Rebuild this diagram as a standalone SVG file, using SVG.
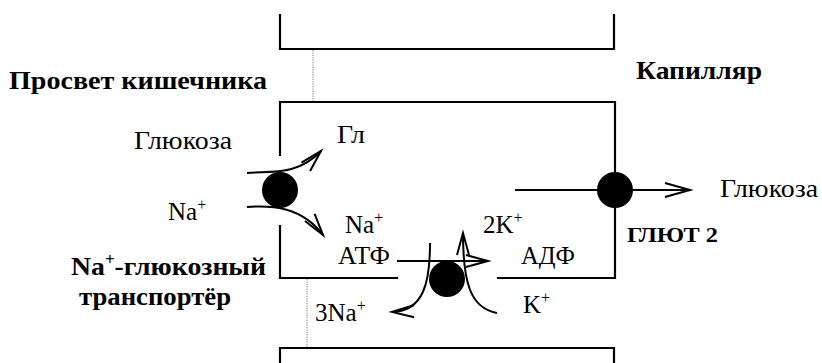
<svg xmlns="http://www.w3.org/2000/svg" width="822" height="363" viewBox="0 0 822 363">
<style>
.wall{fill:none;stroke:#000;stroke-width:2.2;stroke-linecap:square}
.dot{fill:none;stroke:#777;stroke-width:1;stroke-dasharray:1.2 1.2}
.arr{fill:none;stroke:#000;stroke-width:2}
text{font-family:'Liberation Serif','DejaVu Serif','Noto Serif',serif;fill:#000}
.t{font-size:25px}
.b{font-size:26px;font-weight:bold}
.sup{font-size:16px}
.prot{fill:#000}
</style>
<defs>
<marker id="head" markerUnits="userSpaceOnUse" markerWidth="30" markerHeight="20" refX="22" refY="8" orient="auto" overflow="visible">
<path d="M0,2 L22,8 L0,14" fill="none" stroke="#000" stroke-width="2"/>
</marker>
<marker id="headW" markerUnits="userSpaceOnUse" markerWidth="30" markerHeight="20" refX="25" refY="8" orient="auto" overflow="visible">
<path d="M0,1 L25,8 L0,15" fill="none" stroke="#000" stroke-width="2"/>
</marker>
</defs>

<g id="capillary-top">
<path class="wall" d="M280,15 V49 H614 V15"/>
</g>
<g id="capillary-bottom">
<path class="wall" d="M280,363 V348 H614 V363"/>
</g>
<g id="guides">
<line class="dot" x1="313" y1="50" x2="313" y2="101"/>
<line class="dot" x1="307" y1="279" x2="307" y2="347"/>
</g>

<g id="cell">
<path class="wall" d="M280,155 V102 H615 V278 H498"/>
<path class="wall" d="M280,226 V278 H397"/>
</g>

<g id="connectors">
<path class="arr" d="M247,173 C272,171 297,176 321,151" marker-end="url(#head)"/>
<path class="arr" d="M247,207 C272,205 302,207 323,235" marker-end="url(#head)"/>
<path class="arr" d="M397,261 H488" marker-end="url(#head)"/>
<path class="arr" d="M430,243 C430,282 424,311 392,312" marker-end="url(#head)"/>
<path class="arr" d="M497,313 C470,308 463,282 463,233" marker-end="url(#head)"/>
<path class="arr" d="M515,190 H690" marker-end="url(#headW)"/>
</g>

<g id="na-glucose-transporter">
<circle class="prot" cx="280" cy="190" r="18"/>
</g>
<g id="na-k-pump">
<circle class="prot" cx="447" cy="279" r="18"/>
</g>
<g id="glut2">
<circle class="prot" cx="615" cy="190" r="18"/>
</g>

<g id="labels">
<text class="b" x="9" y="89" textLength="258" lengthAdjust="spacingAndGlyphs">Просвет кишечника</text>
<text class="b" x="636" y="79" textLength="126" lengthAdjust="spacingAndGlyphs">Капилляр</text>
<text class="t" x="134" y="149" textLength="98" lengthAdjust="spacingAndGlyphs">Глюкоза</text>
<text class="t" x="337" y="143" textLength="28" lengthAdjust="spacingAndGlyphs">Гл</text>
<text class="t" x="168" y="220">Na<tspan class="sup" dy="-10">+</tspan></text>
<text class="t" x="345" y="233">Na<tspan class="sup" dy="-10">+</tspan></text>
<text class="t" x="338" y="264" textLength="52" lengthAdjust="spacingAndGlyphs">АТФ</text>
<text class="t" x="483" y="233">2K<tspan class="sup" dy="-10">+</tspan></text>
<text class="t" x="521" y="264" textLength="54" lengthAdjust="spacingAndGlyphs">АДФ</text>
<text class="t" x="523" y="313">K<tspan class="sup" dy="-10">+</tspan></text>
<text class="t" x="315" y="321">3Na<tspan class="sup" dy="-10">+</tspan></text>
<text class="t" x="720" y="197" textLength="98" lengthAdjust="spacingAndGlyphs">Глюкоза</text>
<text class="b" x="627" y="242" style="font-size:21px" textLength="91" lengthAdjust="spacingAndGlyphs">ГЛЮТ 2</text>
<text class="b" x="71" y="275" textLength="195" lengthAdjust="spacingAndGlyphs">Na<tspan class="sup" dy="-10">+</tspan><tspan dy="10">-глюкозный</tspan></text>
<text class="b" x="79" y="305" textLength="152" lengthAdjust="spacingAndGlyphs">транспортёр</text>
</g>
</svg>
